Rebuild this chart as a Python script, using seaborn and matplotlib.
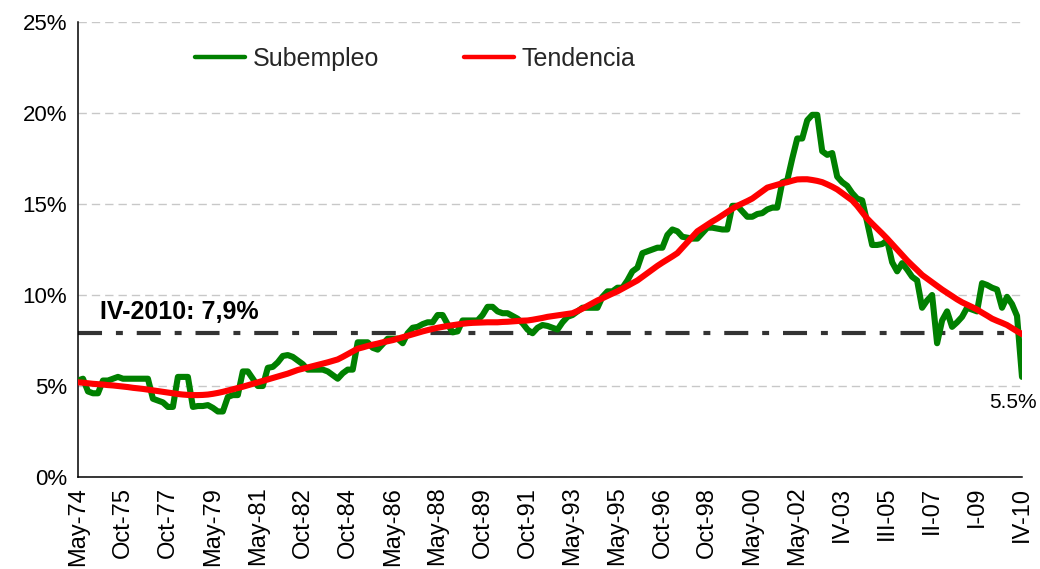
import matplotlib
matplotlib.use("Agg")
import matplotlib.pyplot as plt
from matplotlib.lines import Line2D
import seaborn as sns
import pandas as pd

# ---------------- data ----------------
etiquetas = ['May-74', 'Oct-75', 'Oct-77', 'May-79', 'May-81', 'Oct-82', 'Oct-84',
             'May-86', 'May-88', 'Oct-89', 'Oct-91', 'May-93', 'May-95', 'Oct-96',
             'Oct-98', 'May-00', 'May-02', 'IV-03', 'III-05', 'II-07', 'I-09', 'IV-10']

subempleo = [
    5.3, 5.4, 4.7, 4.6, 4.6, 5.3, 5.3, 5.4, 5.5, 5.4,
    5.4, 5.4, 5.4, 5.4, 5.4, 4.3, 4.2, 4.1, 3.85, 3.85,
    5.5, 5.5, 5.5, 3.85, 3.9, 3.9, 3.95, 3.8, 3.6, 3.6,
    4.4, 4.5, 4.5, 5.8, 5.8, 5.4, 5.0, 5.0, 6.0, 6.05,
    6.3, 6.65, 6.7, 6.6, 6.4, 6.2, 5.9, 5.9, 5.9, 5.9,
    5.8, 5.6, 5.4, 5.7, 5.9, 5.9, 7.4, 7.4, 7.4, 7.1,
    7.0, 7.3, 7.6, 7.6, 7.6, 7.35, 7.9, 8.2, 8.25, 8.4,
    8.5, 8.5, 8.9, 8.9, 8.4, 7.95, 8.0, 8.6, 8.6, 8.6,
    8.6, 8.9, 9.35, 9.35, 9.1, 9.0, 9.0, 8.85, 8.7, 8.45,
    8.1, 7.9, 8.2, 8.35, 8.3, 8.2, 8.1, 8.5, 8.8, 8.9,
    9.1, 9.3, 9.3, 9.3, 9.3, 9.9, 10.2, 10.2, 10.4, 10.4,
    10.8, 11.3, 11.5, 12.3, 12.4, 12.5, 12.6, 12.6, 13.3, 13.6,
    13.5, 13.2, 13.15, 13.1, 13.1, 13.4, 13.7, 13.7, 13.65, 13.6,
    13.6, 14.9, 14.9, 14.6, 14.3, 14.3, 14.45, 14.5, 14.7, 14.8,
    14.8, 16.2, 16.3, 17.5, 18.6, 18.6, 19.6, 19.9, 19.9, 17.9,
    17.7, 17.8, 16.5, 16.2, 16.0, 15.6, 15.3, 15.2, 14.0, 12.75,
    12.75, 12.8, 13.0, 11.8, 11.3, 11.75, 11.4, 11.0, 10.8, 9.3,
    9.7, 10.0, 7.35, 8.6, 9.1, 8.25, 8.5, 8.8, 9.3, 9.2,
    9.1, 10.65, 10.55, 10.4, 10.3, 9.3, 9.9, 9.5, 8.85, 5.5,
]

tendencia = [
    5.2, 5.18, 5.15, 5.12, 5.1, 5.08, 5.05, 5.03, 5.0, 4.97,
    4.94, 4.9, 4.87, 4.84, 4.8, 4.76, 4.72, 4.68, 4.64, 4.6,
    4.56, 4.53, 4.51, 4.5, 4.5, 4.51, 4.53, 4.57, 4.62, 4.68,
    4.75, 4.82, 4.89, 4.96, 5.04, 5.12, 5.2, 5.28, 5.36, 5.44,
    5.52, 5.6, 5.68, 5.78, 5.88, 5.95, 6.02, 6.09, 6.16, 6.23,
    6.3, 6.38, 6.46, 6.6, 6.75, 6.9, 7.05, 7.12, 7.2, 7.27,
    7.33, 7.4, 7.46, 7.52, 7.6, 7.68, 7.76, 7.84, 7.92, 8.0,
    8.07, 8.14, 8.2, 8.25, 8.3, 8.34, 8.38, 8.42, 8.45, 8.47,
    8.48, 8.49, 8.5, 8.5, 8.5, 8.52, 8.53, 8.55, 8.57, 8.59,
    8.6, 8.64, 8.69, 8.74, 8.8, 8.84, 8.88, 8.92, 8.96, 9.0,
    9.12, 9.25, 9.4, 9.55, 9.7, 9.82, 9.95, 10.08, 10.2, 10.35,
    10.5, 10.65, 10.8, 11.0, 11.2, 11.4, 11.6, 11.78, 11.95, 12.12,
    12.3, 12.6, 12.9, 13.2, 13.5, 13.68, 13.86, 14.04, 14.2, 14.38,
    14.56, 14.74, 14.9, 15.03, 15.16, 15.3, 15.5, 15.7, 15.9, 15.98,
    16.06, 16.14, 16.2, 16.28, 16.35, 16.36, 16.36, 16.32, 16.27, 16.2,
    16.08, 15.95, 15.8, 15.6, 15.4, 15.2, 14.9, 14.55, 14.2, 13.92,
    13.65, 13.38, 13.1, 12.8, 12.5, 12.2, 11.9, 11.63, 11.37, 11.1,
    10.9, 10.7, 10.5, 10.3, 10.12, 9.94, 9.76, 9.6, 9.47, 9.34,
    9.2, 9.03, 8.87, 8.7, 8.58, 8.47, 8.35, 8.18, 8.01, 7.85,
]

nivel_iv2010 = 7.9
texto_nivel = 'IV-2010: 7,9%'
texto_ultimo = '5.5%'
yticks = [0, 5, 10, 15, 20, 25]

n = len(subempleo)
assert len(tendencia) == n

df = pd.DataFrame({
    'idx': list(range(n)) * 2,
    'valor': subempleo + tendencia,
    'serie': ['Subempleo'] * n + ['Tendencia'] * n,
})

# ---------------- style ----------------
sns.set_theme(style='white')
plt.rcParams['font.family'] = ['Liberation Sans', 'DejaVu Sans']

VERDE = '#008000'
ROJO = '#FF0000'

fig = plt.figure(figsize=(10.4, 5.69), dpi=100)
ax = fig.add_axes([0.075, 0.1617, 0.9827 - 0.075, 0.9613 - 0.1617])

# reference dash-dot line
lw_ref = 3.0
ax.hlines(nivel_iv2010, 0, n - 1, colors='#333333', linewidth=lw_ref,
          linestyles=[(0, [17.3 / lw_ref, 10 / lw_ref, 5 / lw_ref, 10 / lw_ref])],
          zorder=2)

sns.lineplot(data=df, x='idx', y='valor', hue='serie',
             palette={'Subempleo': VERDE, 'Tendencia': ROJO},
             linewidth=4.4, ax=ax, legend=False, sort=False)
for ln, z in zip(ax.lines, [3, 4]):
    ln.set_zorder(z)
    ln.set_solid_joinstyle('round')
    ln.set_solid_capstyle('round')

ax.set_xlim(0, n - 1)
ax.set_ylim(0, 25)

ax.set_yticks(yticks)
ax.set_yticklabels([f'{v}%' for v in yticks], fontsize=16)
ax.set_xticks(list(range(0, n, 9)))
ax.set_xticklabels(etiquetas, rotation=90, fontsize=17)
ax.set_xticks(list(range(n)), minor=True)

ax.tick_params(axis='both', which='both', direction='out', length=4,
               width=1, color='black', pad=3, labelcolor='black')
ax.tick_params(axis='y', pad=4)

ax.set_xlabel('')
ax.set_ylabel('')

for s in ['top', 'right']:
    ax.spines[s].set_visible(False)
for s in ['left', 'bottom']:
    ax.spines[s].set_color('black')
    ax.spines[s].set_linewidth(1.1)

ax.yaxis.grid(True, color='#c8c8c8', linewidth=1.0, linestyle=(0, (6, 3.6)))
ax.xaxis.grid(False)
ax.set_axisbelow(True)

# annotations
ax.text(4.4, 9.04, texto_nivel, fontsize=18, fontweight='bold',
        ha='left', va='center', color='black')
ax.text(187.2, 4.09, texto_ultimo, fontsize=15, ha='center', va='center',
        color='black', clip_on=False)

# legend
handles = [Line2D([0], [0], color=VERDE, lw=3.2),
           Line2D([0], [0], color=ROJO, lw=3.2)]
fig.legend(handles, ['Subempleo', 'Tendencia'], ncol=2, frameon=False,
           fontsize=18, loc='center left',
           bbox_to_anchor=(195 / 1040, 1 - 59 / 569),
           bbox_transform=fig.transFigure,
           borderpad=0, borderaxespad=0, handlelength=2.0,
           handletextpad=0.3, columnspacing=3.4)

fig.savefig('out.png', dpi=100)
